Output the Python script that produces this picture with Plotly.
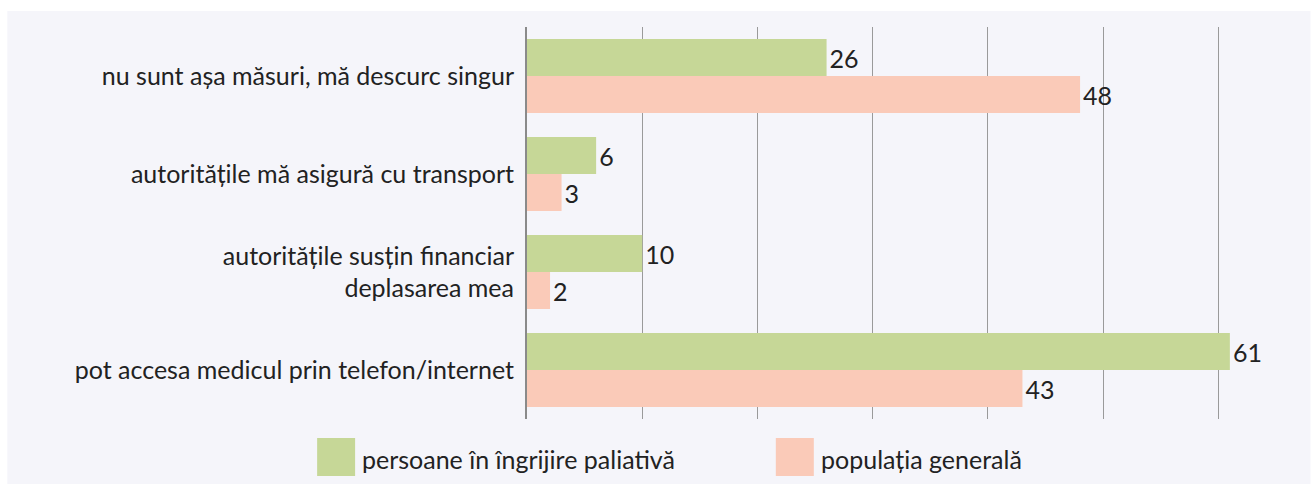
import plotly.graph_objects as go

categories = [
    "nu sunt așa măsuri, mă descurc singur",
    "autoritățile mă asigură cu transport",
    "autoritățile susțin financiar<br>deplasarea mea",
    "pot accesa medicul prin telefon/internet",
]
series_names = ["persoane în îngrijire paliativă", "populația generală"]
paliativ = [26, 6, 10, 61]
general = [48, 3, 2, 43]

GREEN = "#c6d797"
PINK = "#facab8"
PANEL = "#f5f5fa"
TEXT = "#222222"
FONT = "Lato, Open Sans, sans-serif"

fig = go.Figure()
for name, vals, col in [(series_names[0], paliativ, GREEN), (series_names[1], general, PINK)]:
    fig.add_trace(go.Bar(
        y=categories, x=vals, name=name, orientation="h",
        marker=dict(color=col, line=dict(width=0)),
        text=[str(v) for v in vals], textposition="outside",
        textfont=dict(size=25, color=TEXT, family=FONT),
        cliponaxis=False,
    ))

W, H = 1311, 484
L, R, T, B = 527, 11.5, 27, 65
plot_w = W - L - R
plot_h = H - T - B

def px_x(x):
    return (x - L) / plot_w

def px_y(y):
    return (H - B - y) / plot_h

shapes = [
    # light panel behind the chart
    dict(type="rect", xref="paper", yref="paper",
         x0=px_x(7), x1=px_x(W), y0=px_y(H), y1=px_y(11),
         fillcolor=PANEL, line=dict(width=0), layer="below"),
]
annotations = []

# legend with large swatches
for name, col, sx in [(series_names[0], GREEN, 317), (series_names[1], PINK, 776)]:
    shapes.append(dict(type="rect", xref="paper", yref="paper",
                       x0=px_x(sx), x1=px_x(sx + 38), y0=px_y(476), y1=px_y(438),
                       fillcolor=col, line=dict(width=0)))
    annotations.append(dict(xref="paper", yref="paper", x=px_x(sx + 43), y=px_y(459),
                            text=name, showarrow=False, xanchor="left", yanchor="middle",
                            font=dict(size=25, color=TEXT, family=FONT)))

fig.update_layout(
    width=W, height=H,
    margin=dict(l=L, r=R, t=T, b=B),
    paper_bgcolor="white", plot_bgcolor=PANEL,
    barmode="group", bargap=0.245, bargroupgap=0,
    showlegend=False,
    font=dict(family=FONT, color=TEXT, size=25),
    shapes=shapes, annotations=annotations,
    xaxis=dict(range=[0, 67], dtick=10, showgrid=True, gridcolor="#9a9a9a", gridwidth=1,
               showticklabels=False, zeroline=False, showline=False, ticks=""),
    yaxis=dict(autorange="reversed", showgrid=False, showline=True, linecolor="#8a8a8a",
               linewidth=2, ticks="", ticklabelstandoff=6,
               tickfont=dict(size=25, color=TEXT, family=FONT)),
)

fig.write_html("out.html")
